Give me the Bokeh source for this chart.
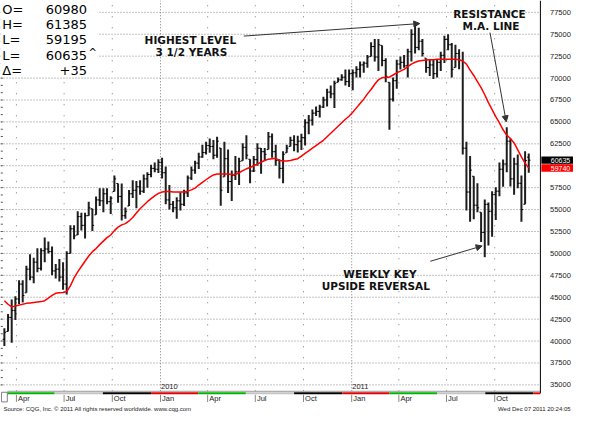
import pandas as pd
from bokeh.plotting import figure
from bokeh.models import Range1d, Label, Arrow, NormalHead, ColumnDataSource
from bokeh.embed import file_html
from bokeh.resources import INLINE
from bokeh.core.properties import value

# ---------------- data (weekly OHLC, weeks starting 2009-03-09) ----------------
first_week = "2009-03-09"

highs = [41460, 43100, 44750, 45100, 46950, 46950, 48600, 49900, 49500, 50600,
         50600, 51800, 51350, 50800, 48800, 49350, 49000, 50250, 53200, 53200,
         54800, 54650, 54650, 55900, 55100, 56500, 57420, 57420, 57420, 56510,
         58890, 57970, 57970, 55230, 57240, 58340, 58250, 58350, 59000, 59260,
         60100, 60370, 60730, 60920, 59900, 57800, 55980, 56400, 56970, 57250,
         58900, 59900, 60560, 61470, 62390, 62750, 63120, 62940, 63300, 62020,
         62750, 61840, 59460, 61110, 60920, 62570, 63480, 60740, 61110, 62570,
         62020, 62020, 63850, 63670, 62390, 60740, 61650, 62390, 63300, 63480,
         63410, 63660, 65310, 65800, 66410, 66770, 66960, 67870, 68790, 69150,
         69700, 70070, 70440, 70990, 70990, 70990, 71350, 71900, 71900, 72630,
         74100, 74460, 74460, 73730, 72270, 69520, 70070, 72080, 72450, 72630,
         73360, 75560, 76110, 75740, 74460, 72270, 72080, 72080, 72080, 73000,
         74830, 75010, 74000, 73800, 73300, 73000, 62750, 61110, 58800, 58000,
         54700, 56160, 55800, 57080, 57550, 60380, 60700, 64390, 63120, 60920,
         61280, 58900, 61650, 61385]

lows = [39450, 41100, 39800, 42400, 44200, 44400, 45500, 46950, 46600, 47850,
        48050, 49000, 50000, 47500, 47150, 46800, 45850, 45300, 50000, 51600,
        52100, 52600, 51700, 54300, 52550, 54400, 55410, 54680, 55600, 54500,
        57060, 55780, 53760, 53950, 55410, 56330, 55150, 56700, 56900, 57500,
        58700, 59260, 59180, 58530, 55600, 55000, 54700, 53960, 54880, 55420,
        56430, 58360, 59090, 59640, 60920, 61290, 61470, 60740, 60920, 55430,
        58730, 56890, 55980, 58360, 57810, 60560, 60740, 57990, 59280, 60010,
        59090, 60560, 61840, 60920, 60010, 58540, 57990, 61470, 62200, 61650,
        61500, 61800, 62300, 63600, 64580, 65680, 65490, 66590, 66770, 67690,
        66590, 69520, 69700, 69150, 68970, 68600, 70070, 70070, 70620, 71170,
        72450, 71900, 70800, 71350, 69520, 64100, 67330, 68790, 70980, 71170,
        70070, 71900, 72810, 73180, 72450, 70620, 70250, 69890, 70070, 70800,
        71720, 73180, 70070, 71200, 71000, 61290, 54880, 53600, 53900, 54700,
        51300, 49570, 50900, 51900, 53800, 56530, 57600, 59270, 57630, 56700,
        57440, 53600, 55610, 59195]

opens = [40200, 41100, 42700, 43500, 44800, 46500, 45500, 48200, 47300, 49000,
         48300, 50300, 50500, 50200, 48000, 48200, 47300, 46500, 50000, 52800,
         52100, 54200, 53200, 54300, 55100, 54400, 56100, 56000, 56800, 55900,
         57060, 57970, 56500, 54300, 55410, 56800, 57200, 57600, 57100, 58500,
         59000, 59700, 59600, 60400, 59200, 56100, 55600, 55200, 56000, 55600,
         56900, 58600, 59500, 60300, 61000, 61500, 62300, 62200, 61200, 62020,
         58730, 60800, 58200, 58900, 59300, 60560, 62100, 60740, 59400, 60700,
         62000, 61600, 61840, 63300, 61600, 60600, 59700, 61470, 62200, 62900,
         62400, 62800, 63200, 64900, 65200, 66000, 66200, 66700, 67500, 68400,
         68200, 69520, 69800, 70100, 69600, 70500, 70600, 71000, 71500, 71700,
         72450, 73600, 72400, 73730, 72000, 69520, 67600, 69700, 71600, 71800,
         71400, 73000, 75000, 73500, 74200, 72270, 71200, 71500, 70500, 71800,
         72600, 74400, 73800, 71200, 72800, 72000, 62000, 57000, 58800, 55500,
         54700, 52400, 55600, 54800, 56700, 57100, 59600, 60200, 62800, 58500,
         60200, 58000, 55610, 60980]

closes = [41000, 42700, 43500, 44800, 46500, 45200, 48200, 47300, 49000, 48300,
          50300, 50500, 50200, 48000, 48200, 47300, 46500, 50000, 52800, 52000,
          54200, 53200, 54300, 55200, 53200, 56100, 56000, 56800, 55900, 56300,
          58500, 56500, 54300, 54800, 56800, 57200, 57600, 57100, 58500, 59000,
          59700, 59600, 60400, 59200, 56100, 55600, 55200, 56000, 55600, 56900,
          58600, 59500, 60300, 61000, 61500, 62300, 62200, 61200, 62800, 57200,
          60800, 58200, 58900, 59300, 60500, 62100, 61200, 59400, 60700, 62000,
          61600, 61300, 63300, 61600, 60600, 59700, 61300, 62000, 62900, 62400,
          62800, 63200, 64900, 65200, 66000, 66200, 66700, 67500, 68400, 68200,
          69400, 69800, 70100, 69600, 70500, 70600, 71000, 71500, 71700, 72400,
          73600, 72400, 73800, 72000, 70200, 67600, 69700, 71600, 71800, 71400,
          73000, 75000, 73500, 74200, 72800, 71200, 71500, 70500, 71800, 72600,
          74400, 73800, 71000, 72800, 72000, 62000, 57000, 59500, 55500, 55200,
          52400, 55600, 54800, 56700, 57100, 59600, 60200, 62800, 58500, 60200,
          58000, 55000, 60600, 60635]

ma_line = [44600, 44200, 43900, 44000, 44100, 44200, 44300, 44350, 44400, 44450,
           44500, 44600, 44900, 45200, 45450, 45500, 45550, 45650, 46300, 47200,
           47900, 48500, 49100, 49700, 50200, 50550, 51000, 51400, 51800, 52100,
           52600, 53000, 53250, 53400, 53700, 54100, 54600, 55100, 55500, 55900,
           56250, 56550, 56850, 57000, 57050, 57050, 57000, 57000, 57000, 57000,
           57100, 57250, 57450, 57800, 58100, 58400, 58700, 58950, 59050, 59050,
           59050, 59050, 59000, 59000, 59200, 59450, 59650, 59800, 60000, 60200,
           60400, 60600, 60750, 60800, 60850, 60600, 60550, 60550, 60600, 60700,
           60800, 61100, 61400, 61700, 62000, 62300, 62600, 62900, 63300, 63700,
           64100, 64500, 64900, 65300, 65650, 66100, 66600, 67100, 67600, 68200,
           68700, 69300, 69800, 70050, 70100, 70100, 70350, 70600, 70800, 71000,
           71300, 71600, 71800, 71950, 72000, 72050, 72100, 72100, 72150, 72150,
           72150, 72150, 72150, 72150, 72100, 71950, 71600, 70900, 70300, 69600,
           68900, 68100, 67200, 66400, 65600, 64900, 64100, 63500, 63100, 62600,
           61800, 61000, 60300, 59740]

y_ticks = list(range(35000, 77501, 2500))
quarter_names = {1: "Jan", 4: "Apr", 7: "Jul", 10: "Oct"}
quarter_colors = {1: "#e00000", 4: "#00b400", 7: "#c4c4c4", 10: "#000000"}

# ---------------- helpers ----------------
DAY = pd.Timedelta(days=1)
t0 = pd.Timestamp(first_week)
dates = pd.date_range(first_week, periods=len(highs), freq="7D")


def d(days):
    return t0 + days * DAY


def ms(ts):
    return pd.Timestamp(ts).value / 1e6


X0, X1 = -7.4, 1086.4          # whole canvas in days
BORDER = 1023.2                 # right edge of the price panel
y_bottom, y_top = 31850, 78850
BASE_Y = 34270
FONT = value("Liberation Sans")

p = figure(frame_width=573, frame_height=412,
           x_range=Range1d(d(X0), d(X1)), y_range=Range1d(y_bottom, y_top),
           x_axis_type="datetime", x_axis_location=None, y_axis_location=None,
           output_backend="svg", toolbar_location=None, min_border=0,
           background_fill_color="white", border_fill_color="white",
           outline_line_color=None)
p.xgrid.visible = False
p.ygrid.visible = False

# horizontal grid (dotted) up to the right border
n = len(y_ticks)
p.segment(x0=[d(X0)] * n, x1=[d(BORDER)] * n, y0=y_ticks, y1=y_ticks,
          line_color="#858585", line_dash="1 2", line_width=1)

# price scale labels on the right
p.text(x=[d(1041.5)] * n, y=y_ticks, text=[str(t) for t in y_ticks],
       text_font=FONT, text_font_size="7.5px", text_color="#222222",
       text_baseline="middle", text_align="left")

# small inward ticks on the left edge
minor = [35000 + i * 2500 / 3 for i in range(52)]
p.segment(x0=[d(X0)] * len(minor), x1=[d(X0 + 4.5)] * len(minor), y0=minor, y1=minor,
          line_color="#555555", line_width=1)

# quarter verticals
qs = pd.date_range("2009-04-01", "2011-10-01", freq="QS")
jan = [q for q in qs if q.month == 1]
other = [q for q in qs if q.month != 1]
p.segment(x0=other, x1=other, y0=[BASE_Y] * len(other), y1=[y_top] * len(other),
          line_color="#7a7a7a", line_dash="1 10", line_width=1)
p.segment(x0=jan, x1=jan, y0=[BASE_Y] * len(jan), y1=[y_top] * len(jan),
          line_color="#7a7a7a", line_dash="1 2", line_width=1)

# white panel behind the quote header
p.quad(left=[d(X0)], right=[d(178)], bottom=[70300], top=[y_top],
       fill_color="white", line_color=None)

# bottom line / right border
p.segment(x0=[d(5.6)], x1=[d(BORDER)], y0=[BASE_Y], y1=[BASE_Y], line_color="#9a9a9a", line_width=1)
p.segment(x0=[d(BORDER)], x1=[d(BORDER)], y0=[34050], y1=[y_top], line_color="#000000", line_width=1)

# quarter colour strip
qs_all = pd.date_range("2009-04-01", "2012-01-01", freq="QS")
lefts = [q - 18 * DAY for q in qs_all]
rights = lefts[1:] + [d(BORDER)]
p.quad(left=lefts, right=rights, bottom=[33930] * len(lefts), top=[34150] * len(lefts),
       fill_color=[quarter_colors[q.month] for q in qs_all], line_color=None)
p.quad(left=[d(-5.6)], right=[d(5.6)], bottom=[33060], top=[34160],
       fill_color="white", line_color="#808080", line_width=1)

# month ticks and labels
p.segment(x0=list(qs), x1=list(qs), y0=[33870] * len(qs), y1=[33045] * len(qs),
          line_color="#8a8a8a", line_width=1)
p.text(x=[q + 3 * DAY for q in qs], y=[33450] * len(qs), text=[quarter_names[q.month] for q in qs],
       text_font=FONT, text_font_size="7.5px", text_color="#222222",
       text_baseline="middle", text_align="left")
p.text(x=[q + 1 * DAY for q in jan], y=[34760] * len(jan), text=[str(q.year) for q in jan],
       text_font=FONT, text_font_size="7.5px", text_color="#222222",
       text_baseline="middle", text_align="left")

# ---------------- OHLC bars and moving average ----------------
src = ColumnDataSource(dict(date=dates, dl=dates - 3.3 * DAY, dr=dates + 3.3 * DAY,
                            high=highs, low=lows, open=opens, close=closes, ma=ma_line))
p.segment(x0="date", y0="low", x1="date", y1="high", source=src, line_color="#1e1e1e", line_width=2)
p.segment(x0="dl", y0="open", x1="date", y1="open", source=src, line_color="#000000", line_width=1)
p.segment(x0="date", y0="close", x1="dr", y1="close", source=src, line_color="#000000", line_width=1)
p.line(x="date", y="ma", source=src, line_color="#ff0000", line_width=1.5)

# last price / last average boxes on the price scale
box_vals = [closes[-1], ma_line[-1]]
p.quad(left=[d(1025)] * 2, right=[d(X1)] * 2, bottom=[v - 420 for v in box_vals],
       top=[v + 420 for v in box_vals], fill_color=["#000000", "#ff0000"], line_color=None)
p.text(x=[d(1043)] * 2, y=box_vals, text=[str(v) for v in box_vals],
       text_font=FONT, text_font_size="7px", text_color="white",
       text_baseline="middle", text_align="left")

# ---------------- header ----------------
hdr = [("O=", f"{opens[-1]}"), ("H=", f"{highs[-1]}"), ("L=", f"{lows[-1]}"),
       ("L=", f"{closes[-1]}"), ("\u0394=", f"{closes[-1] - closes[-2]:+d}")]
hdr_y = [77840, 76120, 74380, 72630, 70870]
for (k, v), yy in zip(hdr, hdr_y):
    p.add_layout(Label(x=ms(d(-4.0)), y=yy, text=k, text_font="DejaVu Sans", text_font_size="13px",
                       text_align="left", text_baseline="middle", text_color="#000000"))
    p.add_layout(Label(x=ms(d(157.8)), y=yy, text=v, text_font="DejaVu Sans", text_font_size="13px",
                       text_align="right", text_baseline="middle", text_color="#000000"))
p.add_layout(Label(x=ms(d(160.5)), y=72950, text="^", text_font="DejaVu Sans", text_font_size="10px",
                   text_align="left", text_baseline="middle", text_color="#000000"))


# ---------------- annotations ----------------
def note(text, day, yy):
    p.add_layout(Label(x=ms(d(day)), y=yy, text=text, text_font="DejaVu Sans", text_font_size="10.5px",
                       text_font_style="bold", text_align="center", text_baseline="middle",
                       text_color="#111111"))


note("HIGHEST LEVEL", 355, 74380)
note("3 1/2 YEARS", 357, 73030)
note("RESISTANCE", 926, 77310)
note("M.A. LINE", 929, 75890)
note("WEEKLY KEY", 717, 47650)
note("UPSIDE REVERSAL", 709, 46230)

for (xs, ys, xe, ye) in [(457, 74790, 793, 76220), (927, 75190, 958, 65010), (813, 49100, 912, 50850)]:
    p.add_layout(Arrow(x_start=ms(d(xs)), y_start=ys, x_end=ms(d(xe)), y_end=ye,
                       line_color="#333333", line_width=1,
                       end=NormalHead(size=6, fill_color="#333333", line_color="#333333")))

# ---------------- footer ----------------
p.text(x=[d(-1.9)], y=[32230], text=["Source: CQG, Inc. \u00a9 2011 All rights reserved worldwide. www.cqg.com"],
       text_font=FONT, text_font_size="6px", text_color="#222222",
       text_baseline="middle", text_align="left")
p.text(x=[d(1080.8)], y=[32230], text=["Wed Dec 07 2011 20:24:05"],
       text_font=FONT, text_font_size="6px", text_color="#222222",
       text_baseline="middle", text_align="right")

open("out.html", "w").write(file_html(p, INLINE))
